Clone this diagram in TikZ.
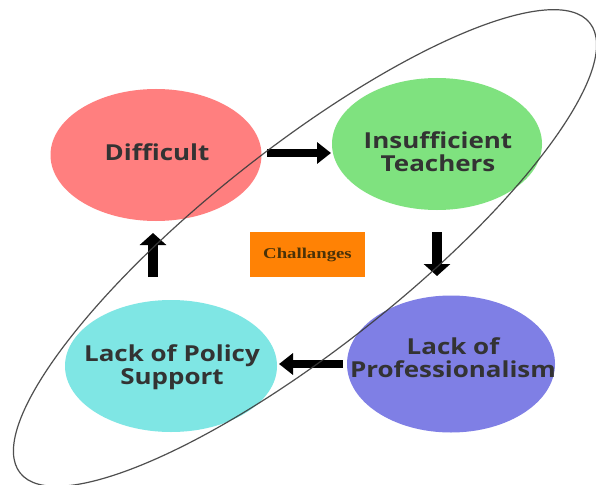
\documentclass[tikz,border=0pt]{standalone}
\usepackage{fontspec}
\usepackage{graphicx}
\usetikzlibrary{shapes.geometric,arrows.meta}
\newfontfamily\labelfont{Open Sans}
\newfontfamily\boxfont{Liberation Serif}
\newcommand\widetext[2][1.18]{\scalebox{#1}[1]{\begin{tabular}{@{}c@{}}#2\end{tabular}}}
\definecolor{redfill}{HTML}{FF7F7F}
\definecolor{greenfill}{HTML}{7FE27F}
\definecolor{bluefill}{HTML}{7F7FE5}
\definecolor{cyanfill}{HTML}{7FE6E4}
\definecolor{boxfill}{HTML}{FF8205}
\definecolor{labeltext}{HTML}{333333}
\definecolor{boxtext}{HTML}{4A3208}
\definecolor{ringline}{HTML}{3C3C3C}
\begin{document}
\begin{tikzpicture}[x=1pt,y=-1pt,
  bubble/.style={ellipse, draw=none, inner sep=0pt},
  bubbletext/.style={inner sep=0pt, text=labeltext,
    font=\labelfont\bfseries\fontsize{22}{23}\selectfont},
  titlebox/.style={rectangle, fill=boxfill, inner sep=0pt,
    minimum width=115, minimum height=45, text=boxtext,
    font=\boxfont\bfseries\fontsize{15}{17}\selectfont},
  hblock/.style={line width=8pt, -{Triangle[length=14pt,width=21pt]}},
  vblock/.style={line width=10pt, -{Triangle[length=12pt,width=26pt]}},
  ring/.style={draw=ringline, line width=1.2pt, opacity=0.9}]
\useasboundingbox (0,0) rectangle (596,484);
\fill[white] (0,0) rectangle (596,484);

% the four stages of the cycle
\node[bubble, fill=redfill, minimum width=211, minimum height=132] (dif) at (156,155) {};
\node[bubble, fill=greenfill, minimum width=210, minimum height=132] (ins) at (437,144) {};
\node[bubble, fill=bluefill, minimum width=208, minimum height=137] (pro) at (451,364) {};
\node[bubble, fill=cyanfill, minimum width=212, minimum height=132] (pol) at (171,366) {};

\node[bubbletext] (difl) at (157,156) {\widetext{Difficult}};
\node[bubbletext] (insl) at (438,155) {\widetext{Insufficient\\Teachers}};
\node[bubbletext] (prol) at (453,361) {\widetext{Lack of\\Professionalism}};
\node[bubbletext] (poll) at (172,368) {\widetext{Lack of Policy\\Support}};

% central label
\node[titlebox] (ch) at (307.5,254.5) {\scalebox{1.25}[1]{Challanges}};

% arrow end points between the stages
\coordinate (a1s) at (267,153);
\coordinate (a1e) at (331,153);
\coordinate (a2s) at (437,232);
\coordinate (a2e) at (437,276);
\coordinate (a3s) at (343,364);
\coordinate (a3e) at (279,364);
\coordinate (a4s) at (153,277);
\coordinate (a4e) at (153,233);

\draw[hblock] (a1s) -- (a1e);
\draw[vblock] (a2s) -- (a2e);
\draw[hblock] (a3s) -- (a3e);
\draw[vblock] (a4s) -- (a4e);

% tilted ring around the cycle
\draw[ring, rotate around={38.3:(305,248)}] (305,248) ellipse [x radius=363, y radius=100];
\end{tikzpicture}
\end{document}
